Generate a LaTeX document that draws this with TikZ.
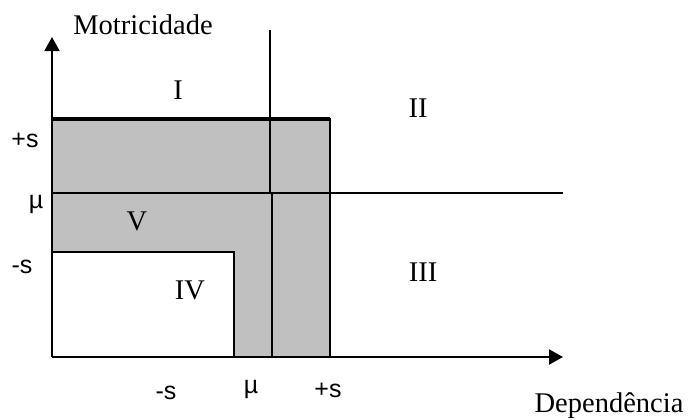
\documentclass[tikz,border=0pt]{standalone}
\usepackage{fontspec}
\setmainfont{Liberation Serif}
\newfontfamily\arialf{Liberation Sans}
\usetikzlibrary{arrows.meta}
\definecolor{greyfill}{HTML}{C0C0C0}
\tikzset{
  thinln/.style={line width=2bp, line cap=rect},
  thickln/.style={line width=3.5bp},
  axisln/.style={line width=2bp, -{Triangle[length=14bp,width=15bp]}},
  serif/.style={font=\fontsize{28.5bp}{30bp}\selectfont, anchor=base, inner sep=0pt},
  sanslbl/.style={font=\arialf\fontsize{25bp}{27bp}\selectfont, anchor=base, inner sep=0pt},
}
\begin{document}
\begin{tikzpicture}[x=1bp,y=-1bp]
\useasboundingbox (0,0) rectangle (690,419);
% coordinates
\coordinate (O) at (52,357);
\coordinate (Ytop) at (52,37);
\coordinate (Xend) at (563,357);
\coordinate (TL) at (52,119);
\coordinate (TR) at (330,119);
\coordinate (BR) at (330,357);
\coordinate (WB) at (234,357);
\coordinate (WC) at (234,252);
\coordinate (WL) at (52,252);
\coordinate (ML) at (52,193);
\coordinate (MR) at (562,193);
\coordinate (VT) at (270,31);
\coordinate (VM) at (270,193);
\coordinate (VM2) at (272,193);
\coordinate (VB) at (272,357);
% grey region
\fill[greyfill] (TL) -- (TR) -- (BR) -- (WB) -- (WC) -- (WL) -- cycle;
% lines
\draw[thinln] (WL) -- (WC) -- (WB);
\draw[thinln] (TR) -- (BR);
\draw[thinln] (ML) -- (MR);
\draw[thinln] (VT) -- (VM);
\draw[thinln] (VM2) -- (VB);
\draw[thickln] (TL) -- (TR);
% axes
\draw[axisln] (O) -- (Ytop);
\draw[axisln] (O) -- (Xend);
% labels
\node[serif] (motr) at (143,34) {Motricidade};
\node[serif] (dep) at (609,412) {Dependência};
\node[serif] (rI) at (178,99) {I};
\node[serif] (rII) at (418,117) {II};
\node[serif] (rIII) at (423,281) {III};
\node[serif] (rIV) at (190,299) {IV};
\node[serif] (rV) at (137,230) {V};
\node[sanslbl] (lps) at (25,147) {+s};
\node[sanslbl] (lmu) at (36,208) {µ};
\node[sanslbl] (lms) at (22,273) {-s};
\node[sanslbl] (bms) at (166,399) {-s};
\node[sanslbl] (bmu) at (251,393) {µ};
\node[sanslbl] (bps) at (328,397) {+s};
\end{tikzpicture}
\end{document}
